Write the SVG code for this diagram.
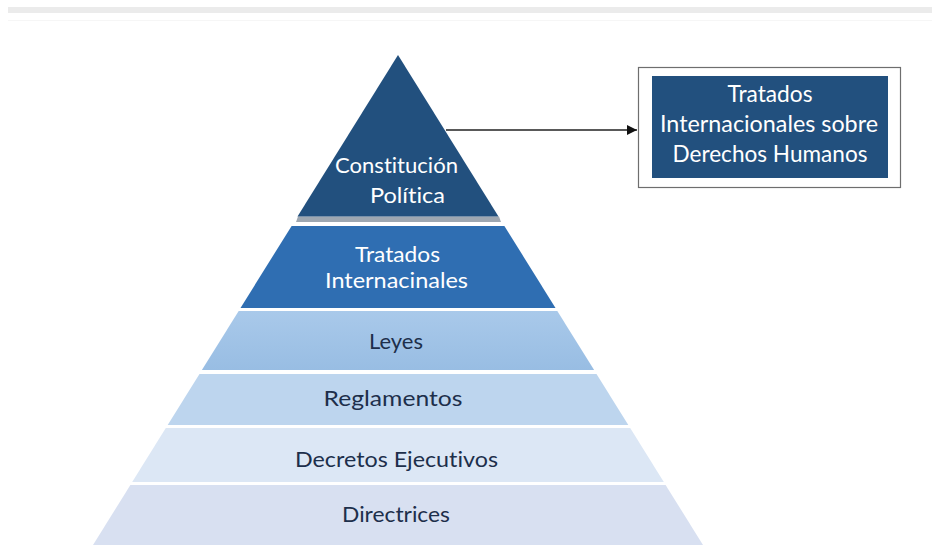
<svg xmlns="http://www.w3.org/2000/svg" width="932" height="547" viewBox="0 0 932 547">
<defs>
<style>
.t{font-family:Lato,"Open Sans","Liberation Sans",sans-serif;font-size:22px;text-anchor:middle;font-variant-ligatures:none}
.b{font-size:23px}
.w{fill:#ffffff}
.d{fill:#1d2f4b}
</style>
<marker id="ah" viewBox="0 0 10 10" refX="10" refY="5" markerWidth="10" markerHeight="10" markerUnits="userSpaceOnUse" orient="auto">
<path d="M0,0 L10,5 L0,10 z" fill="#111"/>
</marker>
<linearGradient id="g3" x1="0" y1="0" x2="0" y2="1"><stop offset="0" stop-color="#a9c9ea"/><stop offset="1" stop-color="#98bde3"/></linearGradient>
</defs>
<rect x="0" y="0" width="932" height="547" fill="#ffffff"/>
<rect x="8" y="7" width="924" height="6" fill="#ebebeb"/>
<rect x="8" y="20" width="924" height="1" fill="#f6f6f6"/>

<g id="n-constitucion">
<polygon points="298,216.5 499,216.5 501,222 296,222" fill="#9ea7b1"/>
<polygon points="398,55 498.5,216.5 297.5,216.5" fill="#22507e"/>
<text class="t w" x="396.5" y="173" textLength="123" lengthAdjust="spacingAndGlyphs">Constitución</text>
<text class="t w" x="407.5" y="203" textLength="75" lengthAdjust="spacingAndGlyphs">Política</text>
</g>
<g id="n-tratados">
<polygon points="291.6,226 504.4,226 555.5,308 240.5,308" fill="#2f6eb2"/>
<text class="t w" x="397.5" y="262" textLength="85" lengthAdjust="spacingAndGlyphs">Tratados</text>
<text class="t w" x="396.5" y="288" textLength="143" lengthAdjust="spacingAndGlyphs">Internacinales</text>
</g>
<g id="n-leyes">
<polygon points="238.7,311 557.3,311 594.1,370 201.9,370" fill="url(#g3)"/>
<text class="t d" x="396" y="349" textLength="54" lengthAdjust="spacingAndGlyphs">Leyes</text>
</g>
<g id="n-reglamentos">
<polygon points="199.5,374 596.5,374 628.3,425 167.7,425" fill="#bdd5ee"/>
<text class="t d" x="393" y="406" textLength="139" lengthAdjust="spacingAndGlyphs">Reglamentos</text>
</g>
<g id="n-decretos">
<polygon points="165.8,428 630.2,428 663.8,482 132.2,482" fill="#dce7f5"/>
<text class="t d" x="396.5" y="467" textLength="203" lengthAdjust="spacingAndGlyphs">Decretos  Ejecutivos</text>
</g>
<g id="n-directrices">
<polygon points="130.4,485 665.6,485 703,545 93,545" fill="#d8e0f1"/>
<text class="t d" x="396" y="522" textLength="108" lengthAdjust="spacingAndGlyphs">Directrices</text>
</g>

<g id="connectors">
<line x1="446" y1="130" x2="637" y2="130" stroke="#222" stroke-width="1.5" marker-end="url(#ah)"/>
</g>

<g id="n-ddhh">
<rect x="638.5" y="67.5" width="262" height="120" fill="#ffffff" stroke="#6e6e6e" stroke-width="1.2"/>
<rect x="652" y="76" width="236" height="102" fill="#22507e"/>
<text class="t b w" x="770" y="102" textLength="85" lengthAdjust="spacingAndGlyphs">Tratados</text>
<text class="t b w" x="769" y="132" textLength="218" lengthAdjust="spacingAndGlyphs">Internacionales sobre</text>
<text class="t b w" x="770" y="162" textLength="195" lengthAdjust="spacingAndGlyphs">Derechos Humanos</text>
</g>
</svg>
